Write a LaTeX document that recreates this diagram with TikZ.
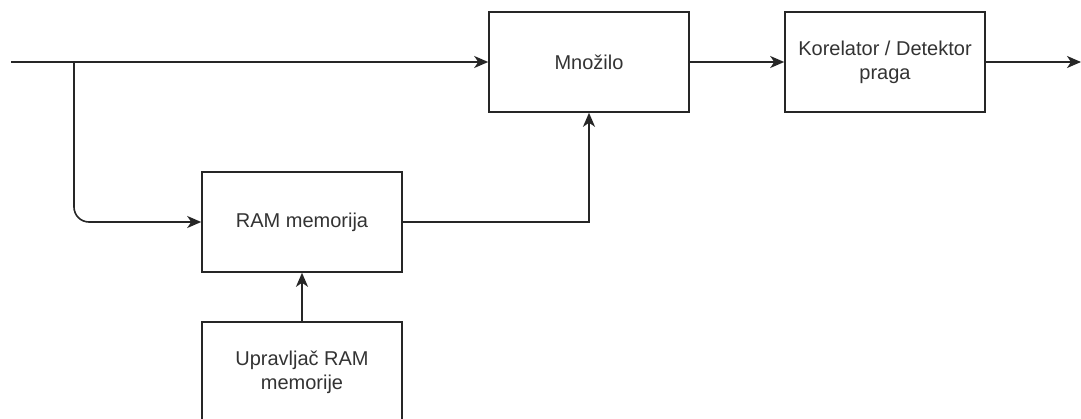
\documentclass[tikz,border=0pt]{standalone}
\usepackage{fontspec}
\setmainfont{Liberation Sans}
\usetikzlibrary{arrows.meta}
\begin{document}
\begin{tikzpicture}[x=1pt,y=-1pt,
		blok/.style={draw=black!85, line width=1.6pt, minimum width=200pt, minimum height=100pt, align=center, text=black!80, font=\fontsize{20}{24}\selectfont, inner sep=0pt},
		veza/.style={-{Stealth[length=14pt,width=12pt,inset=4pt]}, draw=black!85, line width=1.6pt}]
		\clip (0,0) rectangle (1081,419);
		\fill[white] (0,0) rectangle (1081,419);
		\node[name=mn, blok] at (589,62) {Množilo};
		\node[name=kd, blok] at (885,62) {Korelator / Detektor\\praga};
		\node[name=ram, blok] at (302,222) {RAM memorija};
		\node[name=upr, blok] at (302,372) {Upravljač RAM\\memorije};
		\coordinate (ulaz) at (11,62);
		\coordinate (grana) at (74,62);
		\coordinate (izlaz) at (1081,62);
		\draw[veza] (ulaz) -- (mn.west);
		\draw[veza, rounded corners=15pt] (grana) |- (ram.west);
		\draw[veza] (ram.east) -| (mn.south);
		\draw[veza] (upr.north) -- (ram.south);
		\draw[veza] (mn.east) -- (kd.west);
		\draw[veza] (kd.east) -- (izlaz);
	\end{tikzpicture}
\end{document}
